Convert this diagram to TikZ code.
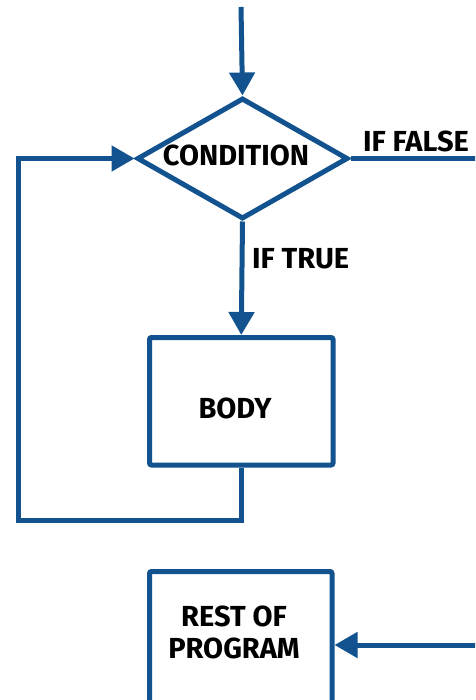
\documentclass[tikz,border=0pt]{standalone}
\usepackage{fontspec}
\setmainfont{Fira Sans}
\usetikzlibrary{shapes.geometric,arrows.meta}
\definecolor{flowblue}{RGB}{18,82,143}
\tikzset{
  flowline/.style={draw=flowblue, line width=5pt},
  flowarrow/.style={flowline, -{Triangle[width=25pt,length=23pt]}},
  boxnode/.style={draw=flowblue, line width=5pt, rounded corners=2pt, fill=white, inner sep=0pt},
  lbl/.style={font=\bfseries\fontsize{29}{32}\selectfont, text=black, inner sep=0pt},
}
\begin{document}
\begin{tikzpicture}[x=1pt,y=-1pt]
\useasboundingbox (0,0) rectangle (475,700);
\clip (0,0) rectangle (475,700);
\node[draw=flowblue, line width=5pt, diamond, fill=white, inner sep=0pt, minimum width=211pt, minimum height=121pt] (dia) at (242.5,158.5) {};
\node[lbl] (condtext) at (236,155) {CONDITION};
\node[boxnode, minimum width=183.5pt, minimum height=127.5pt] (body) at (241.25,401.25) {};
\node[lbl] (bodytext) at (235,408) {BODY};
\node[boxnode, minimum width=182.5pt, minimum height=147pt] (rest) at (240.75,645) {};
\node[lbl, align=center] (resttext) at (234,632) {REST OF\\PROGRAM};
\coordinate (start) at (241,7);
\coordinate (loopc) at (18,520);
\coordinate (rightc) at (500,400);
\draw[flowarrow] (start) -- (dia.north);
\draw[flowarrow] (dia.south) -- (body.north);
\draw[flowarrow] (body.south) |- (loopc) |- (dia.west);
\draw[flowarrow] (dia.east) -| (rightc) |- (rest.east);
\node[lbl, anchor=west] (iftrue) at (252,259) {IF TRUE};
\node[lbl, anchor=west] (iffalse) at (363,141) {IF FALSE};
\end{tikzpicture}
\end{document}
